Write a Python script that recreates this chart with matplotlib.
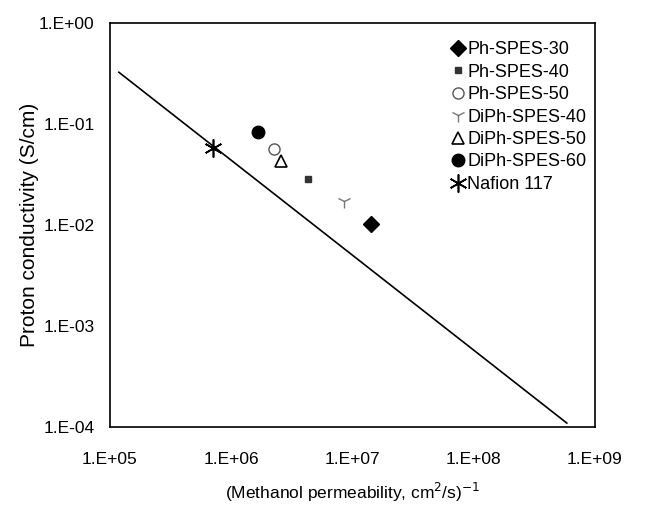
import math

import matplotlib
matplotlib.use("Agg")
import matplotlib.pyplot as plt
from matplotlib.ticker import FuncFormatter, LogLocator, NullLocator

plt.rcParams['font.family'] = ['Liberation Sans', 'DejaVu Sans']

# samples: (1/methanol permeability, proton conductivity)
names = ["Ph-SPES-30", "Ph-SPES-40", "Ph-SPES-50", "DiPh-SPES-40",
         "DiPh-SPES-50", "DiPh-SPES-60", "Nafion 117"]
inv_perm = [1.42e7, 4.3e6, 2.25e6, 8.5e6, 2.57e6, 1.66e6, 7.07e5]
conductivity = [0.0102, 0.0285, 0.0565, 0.0173, 0.043, 0.0833, 0.0578]

# trade-off line end points
line_x = [1.19e5, 5.87e8]
line_y = [0.327, 1.1e-4]

styles = [
    dict(marker="D", ms=8, mfc="black", mec="black"),
    dict(marker="s", ms=5, mfc="#333333", mec="#333333"),
    dict(marker="o", ms=8, mfc="white", mec="#555555", mew=1.0),
    dict(marker="1", ms=10, mfc="none", mec="#777777", mew=1.0),
    dict(marker="^", ms=9, mfc="white", mec="black", mew=1.2),
    dict(marker="o", ms=9, mfc="black", mec="black"),
    dict(marker=(6, 2, 0), ms=13, mfc="none", mec="black", mew=1.2),
]

fig = plt.figure(figsize=(6.53, 5.16), dpi=100)
ax = fig.add_axes([0.168, 0.172, 0.743, 0.783])

ax.plot(line_x, line_y, color="black", lw=1.2)
for name, x, y, st in zip(names, inv_perm, conductivity, styles):
    ax.plot([x], [y], linestyle="none", label=name, **st)

ax.set_xscale("log")
ax.set_yscale("log")
ax.set_xlim(1e5, 1e9)
ax.set_ylim(1e-4, 1)
ax.xaxis.set_major_locator(LogLocator(base=10, numticks=10))
ax.yaxis.set_major_locator(LogLocator(base=10, numticks=10))
ax.xaxis.set_minor_locator(NullLocator())
ax.yaxis.set_minor_locator(NullLocator())


def sci_fmt(v, pos):
    e = int(round(math.log10(v)))
    return "1.E%s%02d" % ("+" if e >= 0 else "-", abs(e))


ax.xaxis.set_major_formatter(FuncFormatter(sci_fmt))
ax.yaxis.set_major_formatter(FuncFormatter(sci_fmt))
ax.tick_params(length=0, labelsize=12.5, pad=11)
ax.tick_params(axis="x", pad=18)
for sp in ax.spines.values():
    sp.set_linewidth(1.2)

ax.set_xlabel("(Methanol permeability, cm$^2$/s)$^{-1}$", fontsize=12.5, labelpad=10)
ax.set_ylabel("Proton conductivity (S/cm)", fontsize=15, labelpad=0)

ax.legend(loc="upper left", bbox_to_anchor=(0.7, 0.955), frameon=False,
          fontsize=13, handletextpad=0.0, labelspacing=0.3, handlelength=1.0,
          borderaxespad=0.0, borderpad=0.0)

fig.savefig("out.png", dpi=100)
